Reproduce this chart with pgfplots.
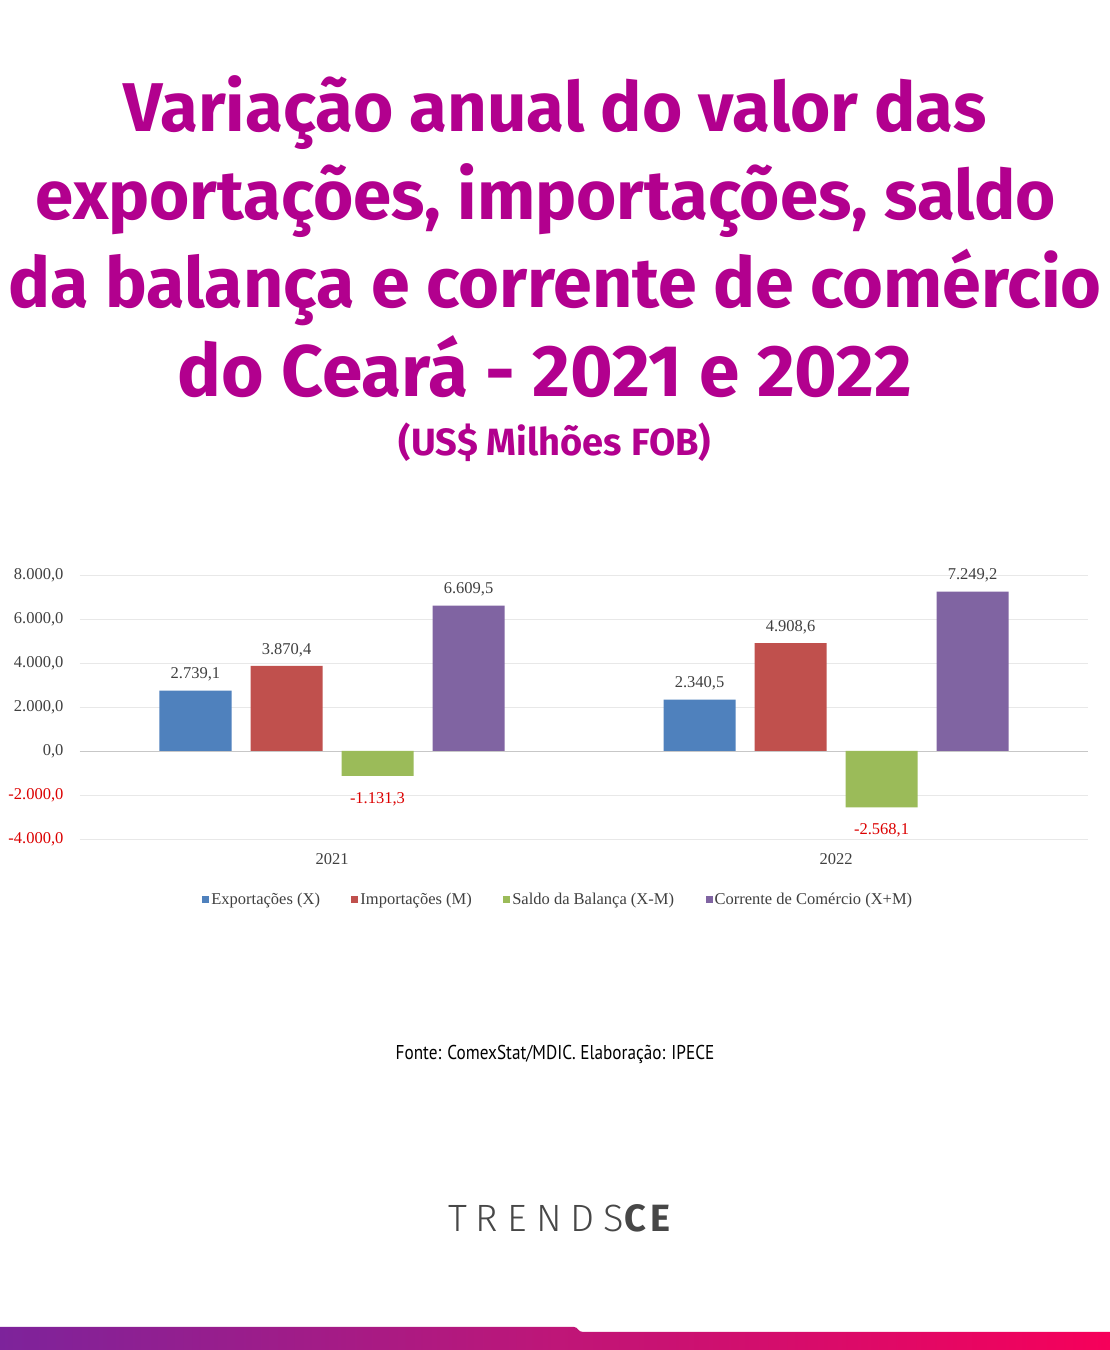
\documentclass[border=0pt]{standalone}
\usepackage{fontspec}
\usepackage{pgfplots}
\usepackage{pgfplotstable}
\pgfplotsset{compat=1.18}
\setmainfont{Liberation Serif}
\newfontfamily\titlefont{Fira Sans}
\newfontfamily\footfont{PT Sans}
\newfontfamily\logofont{Fira Sans Light}[LetterSpace=24]
\newfontfamily\logofontb{Fira Sans}[LetterSpace=10]
\definecolor{mag}{RGB}{178,0,142}
\definecolor{cblue}{RGB}{79,129,189}
\definecolor{cred}{RGB}{192,80,77}
\definecolor{cgreen}{RGB}{155,187,89}
\definecolor{cpurple}{RGB}{128,100,162}
\definecolor{lbl}{RGB}{64,64,64}
\definecolor{negred}{RGB}{220,0,0}
\definecolor{gleft}{RGB}{125,35,155}
\definecolor{gmid}{RGB}{190,22,120}
\definecolor{gright}{RGB}{246,0,90}

\pgfplotstableread{
x y lbl
0 2739.1 2.739,1
1 2340.5 2.340,5
}\exportacoes
\pgfplotstableread{
x y lbl
0 3870.4 3.870,4
1 4908.6 4.908,6
}\importacoes
\pgfplotstableread{
x y lbl
0 -1131.3 -1.131,3
1 -2568.1 -2.568,1
}\saldo
\pgfplotstableread{
x y lbl
0 6609.5 6.609,5
1 7249.2 7.249,2
}\corrente

\begin{document}
\begin{tikzpicture}[x=1pt,y=1pt]
\fill[white] (0pt,0pt) rectangle (1110pt,1350pt);
% title
\begin{scope}[every node/.style={anchor=base, inner sep=0pt, text=mag}]
\node at (555pt,1218pt) {\titlefont\bfseries\fontsize{69}{72}\selectfont Variação anual do valor das};
\node at (546pt,1130pt) {\titlefont\bfseries\fontsize{69}{72}\selectfont exportações, importações, saldo};
\node at (555pt,1042pt) {\titlefont\bfseries\fontsize{70}{72}\selectfont da balança e corrente de comércio};
\node at (545pt,953pt) {\titlefont\bfseries\fontsize{73}{76}\selectfont do Ceará - 2021 e 2022};
\node at (555pt,894pt) {\titlefont\bfseries\fontsize{38}{40}\selectfont (US\$ Milhões FOB)};
\end{scope}

\pgfplotsset{sqleg/.style={legend image code/.code={\fill[##1] (0pt,-3.5pt) rectangle (7pt,3.5pt);}}}
\begin{axis}[
  at={(80pt,511pt)}, anchor=south west,
  scale only axis, width=1008pt, height=264pt,
  xmin=-0.5, xmax=1.5, ymin=-4000, ymax=8000,
  ybar=19pt, bar width=72pt,
  xtick={0,1}, xticklabels={2021,2022},
  ytick={-4000,-2000,0,2000,4000,6000,8000},
  yticklabels={{\color{negred}-4.000,0},{\color{negred}-2.000,0},{0,0},{2.000,0},{4.000,0},{6.000,0},{8.000,0}},
  ymajorgrids, major grid style={draw=black!9, line width=0.9pt},
  extra y ticks={0}, extra y tick labels={},
  extra y tick style={major grid style={draw=black!22, line width=0.9pt}},
  axis line style={draw=none}, major tick length=0pt,
  tick label style={font=\fontsize{16.5}{18}\selectfont, text=lbl},
  yticklabel style={xshift=-13pt},
  xticklabel style={yshift=-11pt},
  clip=false,
  nodes near coords, point meta=explicit symbolic,
  every node near coord/.append style={font=\fontsize{16.5}{18}\selectfont, text=lbl, inner ysep=9pt},
  legend columns=4,
  legend style={at={(0.4745,-0.231)}, anchor=center, draw=none, fill=none,
    font=\fontsize{16.5}{18}\selectfont, text=lbl,
    nodes={inner xsep=2pt},
    /tikz/every even column/.append style={column sep=29.5pt}},
]
\addplot[fill=cblue, draw=none, sqleg] table[x=x, y=y, meta=lbl] {\exportacoes};
\addlegendentry{Exportações (X)}
\addplot[fill=cred, draw=none, sqleg] table[x=x, y=y, meta=lbl] {\importacoes};
\addlegendentry{Importações (M)}
\addplot[fill=cgreen, draw=none, sqleg, every node near coord/.append style={text=negred, anchor=north, inner ysep=16pt}] table[x=x, y=y, meta=lbl] {\saldo};
\addlegendentry{Saldo da Balança (X-M)}
\addplot[fill=cpurple, draw=none, sqleg] table[x=x, y=y, meta=lbl] {\corrente};
\addlegendentry{Corrente de Comércio (X+M)}
\end{axis}

% footer
\node[anchor=base, inner sep=0pt] at (555pt,290pt) {\scalebox{0.86}[1]{\footfont\fontsize{20}{24}\selectfont Fonte: ComexStat/MDIC. Elaboração: IPECE}};
% logo
\node[anchor=base, inner sep=0pt, text=black!72] at (559pt,118pt) {\logofont\fontsize{38}{40}\selectfont TRENDS{\logofontb\bfseries CE}};
% bottom bar
\shade[left color=gleft, right color=gright, middle color=gmid]
  (0pt,0pt) -- (0pt,23pt) -- (574pt,23pt) .. controls (578pt,23pt) and (578pt,18pt) .. (583pt,18pt) -- (1110pt,18pt) -- (1110pt,0pt) -- cycle;
\end{tikzpicture}
\end{document}
